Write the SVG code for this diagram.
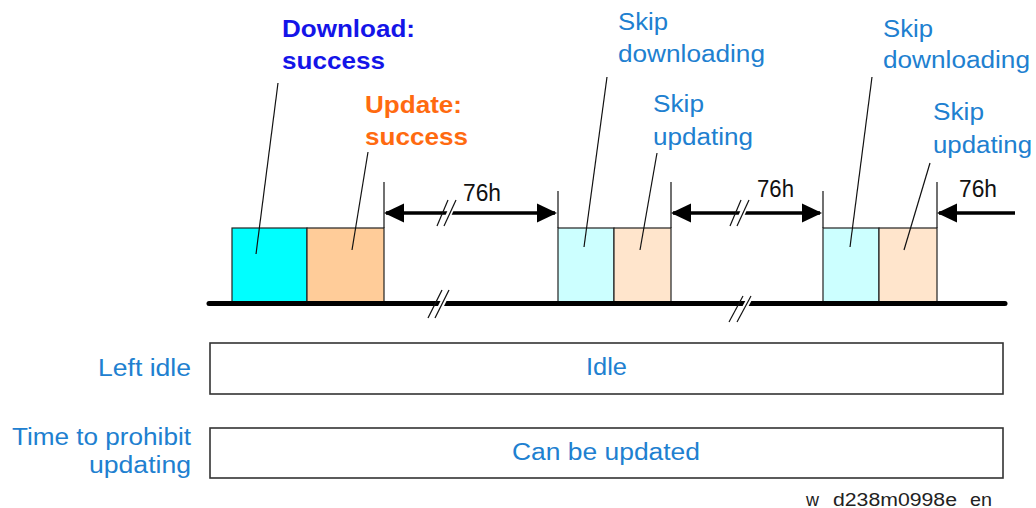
<svg xmlns="http://www.w3.org/2000/svg" width="1036" height="508" viewBox="0 0 1036 508">
<style>
  text { font-family: "Liberation Sans", Arial, sans-serif; }
  .lbl { font-size: 23px; fill: #2080D0; }
  .bold { font-size: 24px; font-weight: bold; }
  .blue { fill: #1414E8; }
  .orange { fill: #FF6A10; }
  .dim { font-size: 23px; fill: #111; }
  .foot { font-size: 18px; fill: #222; }
  .box { stroke: #222; stroke-width: 1.2; }
  .row { fill: #fff; stroke: #333; stroke-width: 1.6; }
  .thin { stroke: #111; stroke-width: 1.2; fill: none; }
  .arrow { stroke: #000; stroke-width: 3.5; fill: none; }
  .brk { stroke: #111; stroke-width: 1.2; fill: none; }
  .gap { fill: #fff; stroke: none; }
</style>
<defs>
  <marker id="ah" viewBox="0 0 20 20" refX="18" refY="10" markerWidth="20" markerHeight="20" markerUnits="userSpaceOnUse" orient="auto-start-reverse">
    <path d="M0,0.5 L20,10 L0,19.5 Z" fill="#000"/>
  </marker>
</defs>
<rect width="1036" height="508" fill="#fff"/>

<g id="boxes">
  <rect id="dl-success" class="box" x="232" y="228" width="75" height="74" fill="#00FFFF"/>
  <rect id="up-success" class="box" x="307" y="228" width="77" height="74" fill="#FFCC99"/>
  <rect id="dl-skip1" class="box" x="558" y="228" width="56" height="74" fill="#CCFFFF"/>
  <rect id="up-skip1" class="box" x="614" y="228" width="57" height="74" fill="#FFE5CC"/>
  <rect id="dl-skip2" class="box" x="823" y="228" width="56" height="74" fill="#CCFFFF"/>
  <rect id="up-skip2" class="box" x="879" y="228" width="58" height="74" fill="#FFE5CC"/>
</g>

<g id="timeline">
  <line x1="209" y1="303.5" x2="1005" y2="303.5" stroke="#000" stroke-width="5" stroke-linecap="round"/>
  <polygon class="gap" points="432,318 446,290 452,290 438,318"/>
  <line class="brk" x1="428" y1="318" x2="442" y2="290"/>
  <line class="brk" x1="435" y1="318" x2="449" y2="290"/>
  <polygon class="gap" points="734,322 748,296 754,296 740,322"/>
  <line class="brk" x1="729" y1="322" x2="743" y2="296"/>
  <line class="brk" x1="737" y1="322" x2="751" y2="296"/>
</g>

<g id="connectors">
  <line class="thin" x1="384" y1="182" x2="384" y2="228"/>
  <line class="thin" x1="558" y1="191" x2="558" y2="228"/>
  <line class="thin" x1="671" y1="182" x2="671" y2="228"/>
  <line class="thin" x1="823" y1="191" x2="823" y2="228"/>
  <line class="thin" x1="937" y1="182" x2="937" y2="228"/>

  <line class="arrow" x1="386" y1="213" x2="555" y2="213" marker-start="url(#ah)" marker-end="url(#ah)"/>
  <polygon class="gap" points="441,226 452,200 458,200 447,226"/>
  <line class="brk" x1="437" y1="226" x2="448" y2="200"/>
  <line class="brk" x1="444" y1="226" x2="456" y2="200"/>

  <line class="arrow" x1="673" y1="213" x2="820" y2="213" marker-start="url(#ah)" marker-end="url(#ah)"/>
  <polygon class="gap" points="734,226 745,200 751,200 740,226"/>
  <line class="brk" x1="730" y1="226" x2="741" y2="200"/>
  <line class="brk" x1="737" y1="226" x2="749" y2="200"/>

  <line class="arrow" x1="1015" y1="213" x2="939" y2="213" marker-end="url(#ah)"/>

  <line class="thin" x1="278" y1="83" x2="256" y2="254"/>
  <line class="thin" x1="368" y1="152" x2="352" y2="250"/>
  <line class="thin" x1="607" y1="77" x2="584" y2="247"/>
  <line class="thin" x1="657" y1="153" x2="640" y2="250"/>
  <line class="thin" x1="872" y1="77" x2="850" y2="247"/>
  <line class="thin" x1="930" y1="163" x2="904" y2="250"/>
</g>

<g id="labels">
  <text class="bold blue" x="282" y="37" textLength="133" lengthAdjust="spacingAndGlyphs">Download:</text>
  <text class="bold blue" x="282" y="69" textLength="103" lengthAdjust="spacingAndGlyphs">success</text>
  <text class="bold orange" x="365" y="113" textLength="97" lengthAdjust="spacingAndGlyphs">Update:</text>
  <text class="bold orange" x="365" y="145" textLength="103" lengthAdjust="spacingAndGlyphs">success</text>

  <text class="lbl" x="618" y="30" textLength="50" lengthAdjust="spacingAndGlyphs">Skip</text>
  <text class="lbl" x="618" y="62" textLength="147" lengthAdjust="spacingAndGlyphs">downloading</text>
  <text class="lbl" x="653" y="112" textLength="51" lengthAdjust="spacingAndGlyphs">Skip</text>
  <text class="lbl" x="653" y="145" textLength="100" lengthAdjust="spacingAndGlyphs">updating</text>
  <text class="lbl" x="883" y="37" textLength="50" lengthAdjust="spacingAndGlyphs">Skip</text>
  <text class="lbl" x="883" y="68" textLength="147" lengthAdjust="spacingAndGlyphs">downloading</text>
  <text class="lbl" x="933" y="120" textLength="51" lengthAdjust="spacingAndGlyphs">Skip</text>
  <text class="lbl" x="933" y="153" textLength="99" lengthAdjust="spacingAndGlyphs">updating</text>

  <text class="dim" x="463" y="201" textLength="38" lengthAdjust="spacingAndGlyphs">76h</text>
  <text class="dim" x="757" y="197" textLength="37" lengthAdjust="spacingAndGlyphs">76h</text>
  <text class="dim" x="959" y="197" textLength="38" lengthAdjust="spacingAndGlyphs">76h</text>
</g>

<g id="row-idle">
  <rect class="row" x="210" y="343" width="793" height="51"/>
  <text class="lbl" x="98" y="376" textLength="93" lengthAdjust="spacingAndGlyphs">Left idle</text>
  <text class="lbl" x="586" y="375" textLength="41" lengthAdjust="spacingAndGlyphs">Idle</text>
</g>

<g id="row-update">
  <rect class="row" x="210" y="428" width="793" height="50"/>
  <text class="lbl" x="12" y="445" textLength="179" lengthAdjust="spacingAndGlyphs">Time to prohibit</text>
  <text class="lbl" x="89" y="473" textLength="102" lengthAdjust="spacingAndGlyphs">updating</text>
  <text class="lbl" x="512" y="460" textLength="188" lengthAdjust="spacingAndGlyphs">Can be updated</text>
</g>

<text class="foot" y="506"><tspan x="806">w</tspan> <tspan x="833" textLength="124" lengthAdjust="spacingAndGlyphs">d238m0998e</tspan> <tspan x="970" textLength="22" lengthAdjust="spacingAndGlyphs">en</tspan></text>
</svg>
